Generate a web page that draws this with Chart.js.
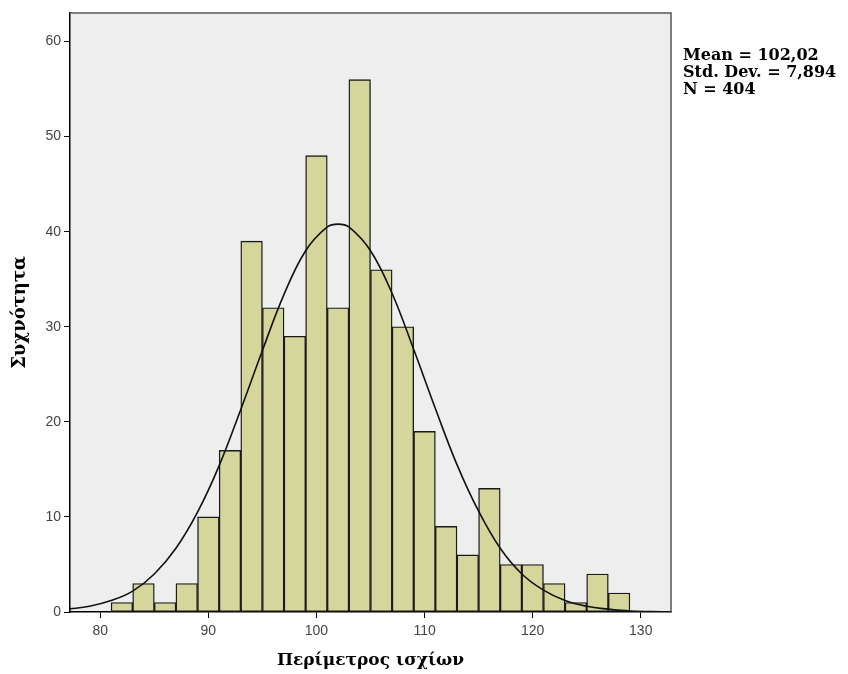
<!DOCTYPE html>
<html>
<head>
<meta charset="utf-8">
<script src="https://cdn.jsdelivr.net/npm/chart.js@4"></script>
<style>
  body { margin: 0; background: #fff; }
  #c { display: block; }
</style>
</head>
<body>
<canvas id="c" width="848" height="674"></canvas>
<script>
// histogram bins (centre of each 2-unit bin) and counts
const binCentres = [82, 84, 86, 88, 90, 92, 94, 96, 98, 100, 102, 104, 106, 108, 110, 112, 114, 116, 118, 120, 122, 124, 126, 128];
const binCounts = [1, 3, 1, 3, 10, 17, 39, 32, 29, 48, 32, 56, 36, 30, 19, 9, 6, 13, 5, 5, 3, 1, 4, 2];

// normal curve
const curveX = [77, 79, 81, 83, 85, 87, 89, 91, 93, 95, 97, 99, 101, 102, 103, 105, 107, 109, 111, 113, 115, 117, 119, 121, 123, 125, 127, 129, 131, 133];
const curveY = [0.3, 0.6, 1.2, 2.2, 4.0, 6.7, 10.5, 15.4, 21.3, 27.5, 33.4, 38.0, 40.5, 40.8, 40.5, 38.0, 33.5, 27.6, 21.4, 15.5, 10.6, 6.7, 4.0, 2.3, 1.2, 0.6, 0.3, 0.1, 0.05, 0.02];

const xTicks = [80, 90, 100, 110, 120, 130];
const yTicks = [0, 10, 20, 30, 40, 50, 60];
const statsLines = ["Mean = 102,02", "Std. Dev. = 7,894", "N = 404"];

const tickFont = { family: "'Liberation Sans', Arial, sans-serif", size: 14 };
const titleFont = { family: "'DejaVu Serif', serif", size: 17, weight: "bold" };

const framePlugin = {
  id: "frame",
  beforeDraw(chart) {
    const { ctx, chartArea: a } = chart;
    ctx.save();
    ctx.fillStyle = "#eeeeee";
    ctx.fillRect(a.left, a.top, a.right - a.left, a.bottom - a.top);
    ctx.restore();
  },
  afterDraw(chart) {
    const { ctx, chartArea: a } = chart;
    ctx.save();
    ctx.strokeStyle = "#555";
    ctx.lineWidth = 1.5;
    ctx.beginPath();
    ctx.moveTo(a.left, a.top);
    ctx.lineTo(a.right, a.top);
    ctx.lineTo(a.right, a.bottom);
    ctx.stroke();
    ctx.fillStyle = "#000";
    ctx.font = "bold 16px 'DejaVu Serif', serif";
    ctx.textBaseline = "middle";
    statsLines.forEach((t, i) => ctx.fillText(t, a.right + 12, 56 + i * 17));
    ctx.restore();
  },
};

new Chart(document.getElementById("c").getContext("2d"), {
  type: "bar",
  data: {
    datasets: [
      {
        type: "line",
        data: curveX.map((x, i) => ({ x: x, y: curveY[i] })),
        borderColor: "#111",
        borderWidth: 1.6,
        pointRadius: 0,
        tension: 0.4,
        fill: false,
        order: 0,
      },
      {
        type: "bar",
        data: binCentres.map((x, i) => ({ x: x, y: binCounts[i] })),
        backgroundColor: "#d5d69b",
        borderColor: "#1a1a1a",
        borderWidth: 1.4,
        borderSkipped: false,
        barPercentage: 1.0,
        categoryPercentage: 1.0,
        order: 1,
      },
    ],
  },
  options: {
    responsive: false,
    animation: false,
    layout: { padding: { top: 13, right: 177, left: 0, bottom: 0 } },
    plugins: { legend: { display: false }, tooltip: { enabled: false } },
    scales: {
      x: {
        type: "linear",
        min: 77.2,
        max: 132.8,
        offset: false,
        afterBuildTicks: (s) => { s.ticks = xTicks.map((v) => ({ value: v })); },
        afterFit: (s) => { s.height = 62; },
        grid: { display: true, offset: false, drawOnChartArea: false, drawTicks: true, tickLength: 6, color: "#000" },
        border: { display: true, color: "#000", width: 1.5 },
        ticks: { font: tickFont, color: "#444", padding: 5, maxRotation: 0 },
        title: { display: true, text: "Περίμετρος ισχίων", font: titleFont, color: "#000", padding: { top: 4, bottom: 3 } },
      },
      y: {
        min: 0,
        max: 63,
        afterBuildTicks: (s) => { s.ticks = yTicks.map((v) => ({ value: v })); },
        afterFit: (s) => { s.width = 70; },
        grid: { display: true, drawOnChartArea: false, drawTicks: true, tickLength: 6, color: "#000" },
        border: { display: true, color: "#000", width: 1.5 },
        ticks: { font: tickFont, color: "#444", padding: 3 },
        title: { display: true, text: "Συχνότητα", font: { family: "'DejaVu Serif', serif", size: 18, weight: "bold" }, color: "#000", padding: { top: 10, bottom: 4 } },
      },
    },
  },
  plugins: [framePlugin],
});
</script>
</body>
</html>
